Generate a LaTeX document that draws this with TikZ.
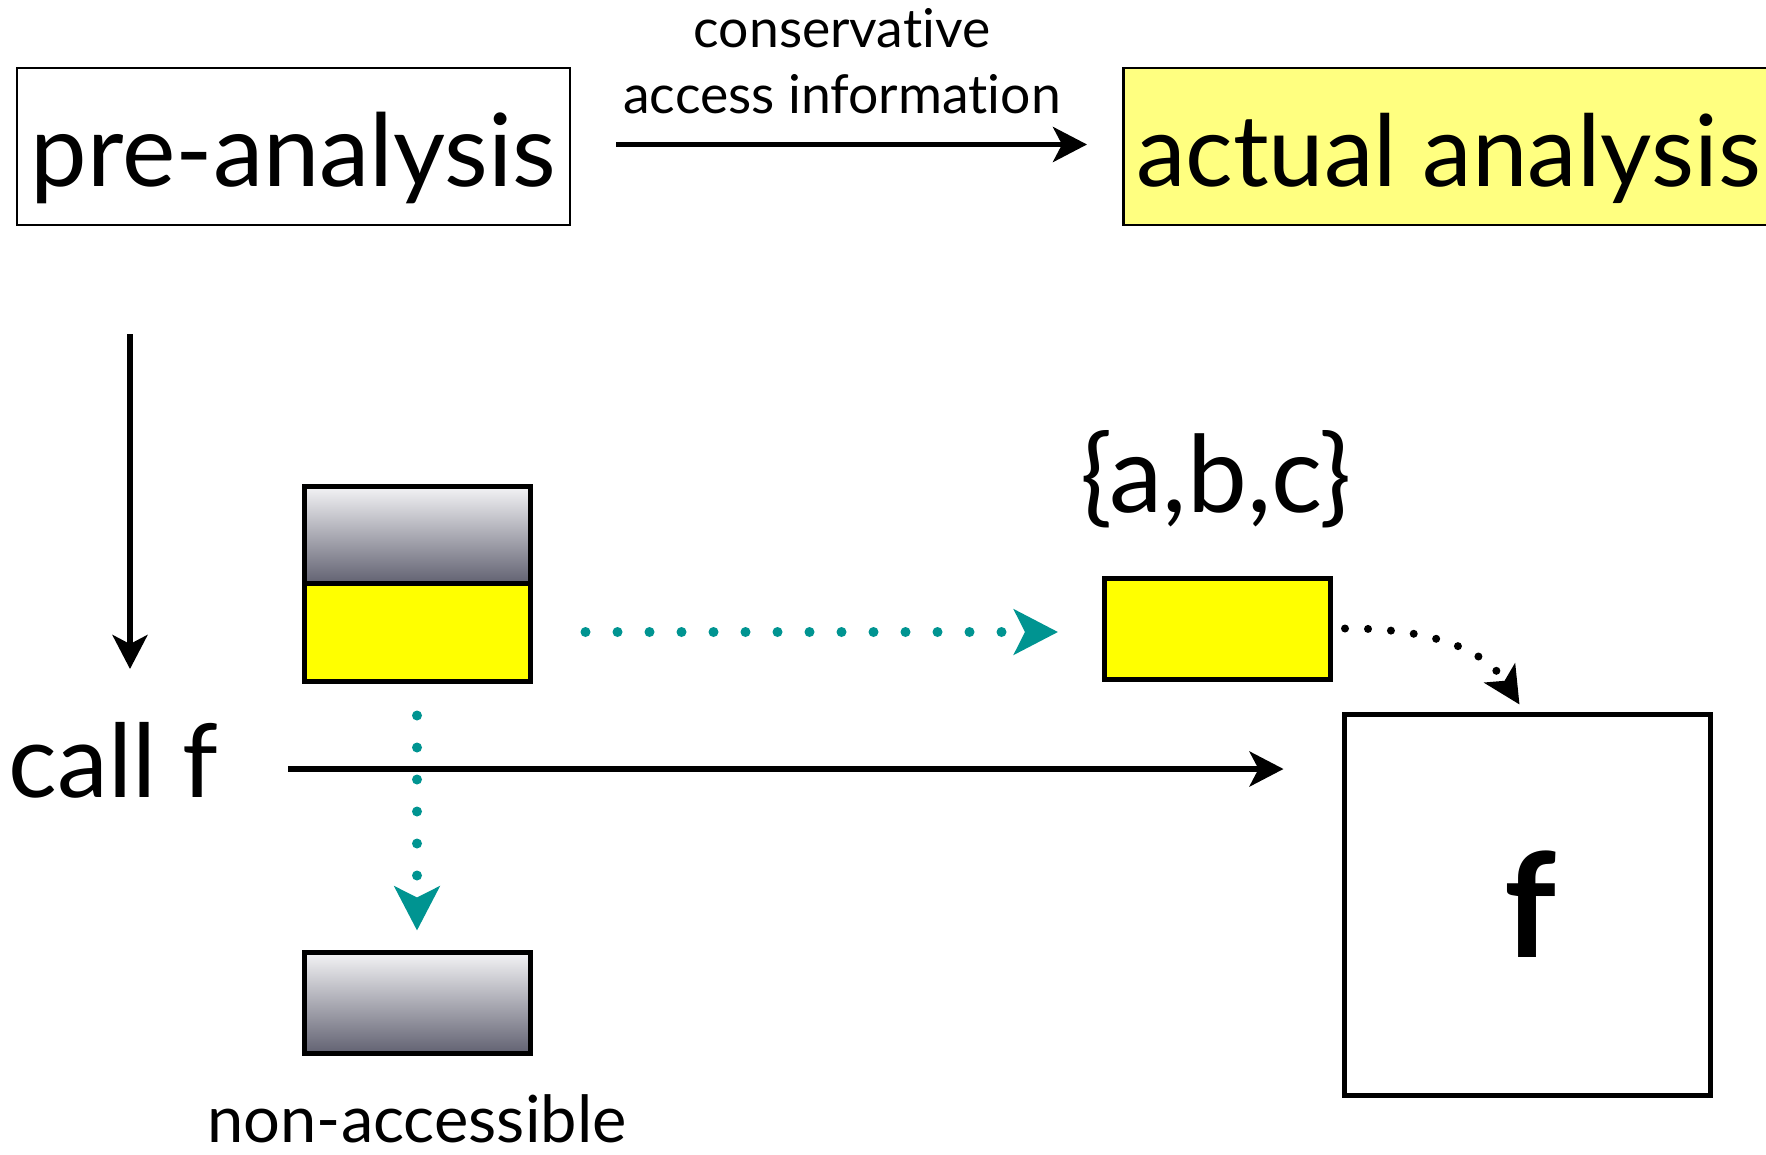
\documentclass[tikz,border=0pt]{standalone}
\usepackage{fontspec}
\setmainfont{Lato}[Ligatures=NoCommon]
\usetikzlibrary{arrows.meta,calc}
\definecolor{tealA}{RGB}{0,148,145}
\definecolor{yellowL}{RGB}{255,255,128}
\definecolor{yellowS}{RGB}{255,255,0}
\definecolor{gTop}{RGB}{244,244,246}
\definecolor{gBot}{RGB}{98,98,114}
\tikzset{
  bigbox/.style={draw, line width=2.5pt, minimum height=157pt, inner sep=0pt},
  smallbox/.style={draw, line width=5pt, minimum width=226pt, inner sep=0pt},
  grayfill/.style={smallbox, top color=gTop, bottom color=gBot},
  ylwfill/.style={smallbox, fill=yellowS},
  blackarrow/.style={line width=5.5pt, -{Stealth[length=34pt,width=35pt,inset=9pt]}},
  tealarrow/.style={tealA, line width=10pt, line cap=round, dash pattern=on 0pt off 32pt, -{Stealth[length=44pt,width=45pt,inset=11pt]}},
  dotarrow/.style={black, line width=8pt, line cap=round, dash pattern=on 0pt off 23pt, -{Stealth[length=37pt,width=36pt,inset=9pt]}},
  txt/.style={inner sep=0pt, outer sep=0pt},
}
\newcommand\fsz[1]{\fontsize{#1}{#1}\selectfont}
\begin{document}
\begin{tikzpicture}[x=1pt,y=-1pt]
\useasboundingbox (0,0) rectangle (1766,1154);
\clip (0,0) rectangle (1766,1154);
% top boxes
\node[bigbox, minimum width=553pt, text height=95pt, text depth=16pt, font=\fsz{101}] (pre) at (293.5,146.5) {pre-analysis};
\node[bigbox, fill=yellowL, anchor=west, minimum width=700pt] (act) at (1122,146.5) {};
\node[txt, anchor=base west, font=\fsz{99.5}] (acttxt) at (1136,186) {actual analysis};
\draw[blackarrow] ([xshift=45pt,yshift=2pt]pre.east) -- ([xshift=-35pt,yshift=2pt]act.west);
\node[txt, anchor=base, font=\fsz{53.5}] (cons1) at (842,47) {conservative};
\node[txt, anchor=base, font=\fsz{53.5}] (cons2) at (842,113) {access information};
% left side
\node[txt, anchor=base west, font=\fsz{102}] (callf) at (9,797) {call f};
\coordinate (v1) at (130,334);
\coordinate (v2) at (130,669);
\draw[blackarrow] (v1) -- (v2);
% stacked boxes
\node[grayfill, minimum height=97pt] (gry) at (417,534.5) {};
\node[ylwfill, minimum height=98pt] (ylw) at (417,632) {};
\node[grayfill, minimum height=101pt] (gry2) at (417,1002.5) {};
\node[txt, anchor=base, font=\fsz{65}] (nonacc) at (417,1142) {non-accessible};
% right side
\node[ylwfill, minimum height=101pt] (ylw2) at (1217.5,628.5) {};
\node[txt, anchor=base, font=\fsz{107}] (abc) at (1216,512) {\{a,b,c\}};
\node[draw, line width=5pt, minimum width=366pt, minimum height=381pt, inner sep=0pt] (fbox) at (1527,904.5) {};
\node[txt, anchor=base, font=\fsz{145}\bfseries] (ftxt) at (1530,957) {f};
% call arrow
\coordinate (c1) at (288,769);
\draw[blackarrow] (c1) -- ($(fbox.west |- c1)+(-58,0)$);
% teal dotted arrows
\draw[tealarrow] ($(ylw.east)+(53,0)$) -- ($(ylw2.west |- ylw.east)+(-44,0)$);
\draw[tealarrow] ($(ylw.south)+(0,32)$) -- ($(gry2.north)+(0,-19)$);
% black dotted curve
\draw[dotarrow] ($(ylw2.east)+(12,0)$) .. controls (1420,628) and (1482,645) .. ($(fbox.north west)+(178,-7)$);
\end{tikzpicture}
\end{document}
